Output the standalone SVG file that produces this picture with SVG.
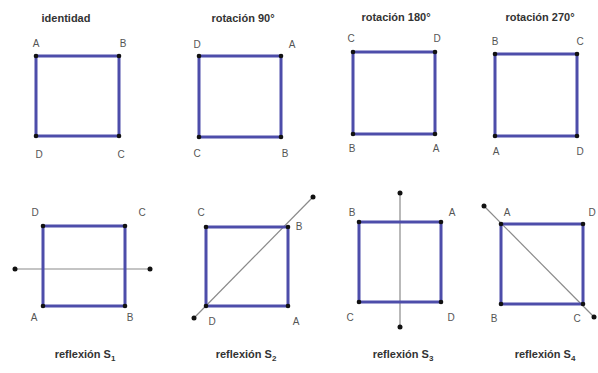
<svg xmlns="http://www.w3.org/2000/svg" width="598" height="373" viewBox="0 0 598 373">
<style>
.sq{fill:none;stroke:#4d4daa;stroke-width:3}
.dot{fill:#111}
.ax{stroke:#8a8a8a;stroke-width:1.2}
.t{font-family:"Liberation Sans",Arial,sans-serif;font-size:11px;font-weight:bold;fill:#333;text-anchor:middle}
.l{font-family:"Liberation Sans",Arial,sans-serif;font-size:10px;fill:#555;text-anchor:middle}
.s{font-size:8px}
</style>
<rect width="598" height="373" fill="#fff"/>
<g id="identidad">
<text class="t" x="66" y="22">identidad</text>
<rect class="sq" x="36" y="56" width="83" height="80"/>
<g class="dot"><circle cx="36" cy="56" r="2.3"/><circle cx="119" cy="56" r="2.3"/><circle cx="36" cy="136" r="2.3"/><circle cx="119" cy="136" r="2.3"/></g>
<text class="l" x="36" y="47">A</text><text class="l" x="123" y="47">B</text>
<text class="l" x="39" y="158">D</text><text class="l" x="121" y="158">C</text>
</g>
<g id="rot90">
<text class="t" x="243" y="22">rotación 90°</text>
<rect class="sq" x="199" y="56" width="82" height="81"/>
<g class="dot"><circle cx="199" cy="56" r="2.3"/><circle cx="281" cy="56" r="2.3"/><circle cx="199" cy="137" r="2.3"/><circle cx="281" cy="137" r="2.3"/></g>
<text class="l" x="197" y="48">D</text><text class="l" x="292" y="48">A</text>
<text class="l" x="197" y="157">C</text><text class="l" x="285" y="157">B</text>
</g>
<g id="rot180">
<text class="t" x="396" y="21">rotación 180°</text>
<rect class="sq" x="353" y="52" width="82" height="82"/>
<g class="dot"><circle cx="353" cy="52" r="2.3"/><circle cx="435" cy="52" r="2.3"/><circle cx="353" cy="134" r="2.3"/><circle cx="435" cy="134" r="2.3"/></g>
<text class="l" x="351" y="42">C</text><text class="l" x="437" y="42">D</text>
<text class="l" x="352" y="152">B</text><text class="l" x="436" y="152">A</text>
</g>
<g id="rot270">
<text class="t" x="540" y="21">rotación 270°</text>
<rect class="sq" x="495" y="54" width="82" height="82"/>
<g class="dot"><circle cx="495" cy="54" r="2.3"/><circle cx="577" cy="54" r="2.3"/><circle cx="495" cy="136" r="2.3"/><circle cx="577" cy="136" r="2.3"/></g>
<text class="l" x="495" y="45">B</text><text class="l" x="580" y="45">C</text>
<text class="l" x="496" y="155">A</text><text class="l" x="580" y="155">D</text>
</g>
<g id="connectors">
<line class="ax" x1="15" y1="269" x2="150" y2="269"/>
<line class="ax" x1="194" y1="318" x2="313" y2="197"/>
<line class="ax" x1="400" y1="193" x2="400" y2="327"/>
<line class="ax" x1="484" y1="206" x2="594" y2="317"/>
</g>
<g id="refS1">
<rect class="sq" x="43" y="226" width="82" height="80"/>
<g class="dot"><circle cx="43" cy="226" r="2.3"/><circle cx="125" cy="226" r="2.3"/><circle cx="43" cy="306" r="2.3"/><circle cx="125" cy="306" r="2.3"/><circle cx="15" cy="269" r="2.5"/><circle cx="150" cy="269" r="2.5"/></g>
<text class="l" x="35" y="216">D</text><text class="l" x="142" y="216">C</text>
<text class="l" x="34" y="321">A</text><text class="l" x="130" y="321">B</text>
<text class="t" x="85" y="358">reflexión S<tspan class="s" dy="3">1</tspan></text>
</g>
<g id="refS2">
<rect class="sq" x="206" y="227" width="82" height="79"/>
<g class="dot"><circle cx="206" cy="227" r="2.3"/><circle cx="288" cy="227" r="2.3"/><circle cx="206" cy="306" r="2.3"/><circle cx="288" cy="306" r="2.3"/><circle cx="194" cy="318" r="2.5"/><circle cx="313" cy="197" r="2.5"/></g>
<text class="l" x="201" y="216">C</text><text class="l" x="299" y="230">B</text>
<text class="l" x="212" y="325">D</text><text class="l" x="296" y="325">A</text>
<text class="t" x="246" y="358">reflexión S<tspan class="s" dy="3">2</tspan></text>
</g>
<g id="refS3">
<rect class="sq" x="359" y="222" width="82" height="80"/>
<g class="dot"><circle cx="359" cy="222" r="2.3"/><circle cx="441" cy="222" r="2.3"/><circle cx="359" cy="302" r="2.3"/><circle cx="441" cy="302" r="2.3"/><circle cx="400" cy="193" r="2.5"/><circle cx="400" cy="327" r="2.5"/></g>
<text class="l" x="352" y="216">B</text><text class="l" x="452" y="216">A</text>
<text class="l" x="350" y="321">C</text><text class="l" x="451" y="321">D</text>
<text class="t" x="403" y="358">reflexión S<tspan class="s" dy="3">3</tspan></text>
</g>
<g id="refS4">
<rect class="sq" x="501" y="224" width="82" height="80"/>
<g class="dot"><circle cx="501" cy="224" r="2.3"/><circle cx="583" cy="224" r="2.3"/><circle cx="501" cy="304" r="2.3"/><circle cx="583" cy="304" r="2.3"/><circle cx="484" cy="206" r="2.5"/><circle cx="594" cy="317" r="2.5"/></g>
<text class="l" x="507" y="216">A</text><text class="l" x="592" y="216">D</text>
<text class="l" x="494" y="322">B</text><text class="l" x="577" y="322">C</text>
<text class="t" x="545" y="358">reflexión S<tspan class="s" dy="3">4</tspan></text>
</g>
</svg>
